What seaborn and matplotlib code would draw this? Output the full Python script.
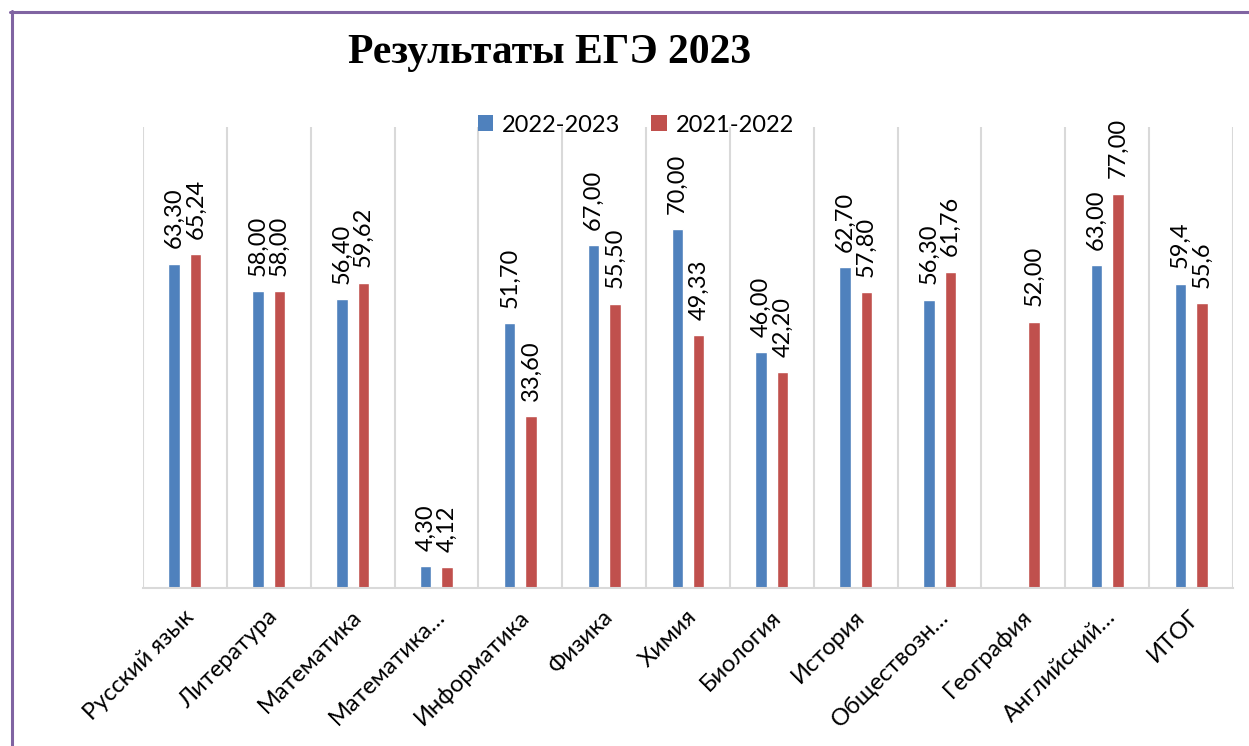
import numpy as np
import pandas as pd
import matplotlib
matplotlib.use("Agg")
import matplotlib.pyplot as plt
import matplotlib.transforms as mtransforms
from matplotlib.patches import Patch
from matplotlib.lines import Line2D
import seaborn as sns

categories = ["Русский язык", "Литература", "Математика", "Математика…",
              "Информатика", "Физика", "Химия", "Биология", "История",
              "Обществозн…", "География", "Английский…", "ИТОГ"]
series_names = ["2022-2023", "2021-2022"]
values_2023 = [63.30, 58.00, 56.40, 4.30, 51.70, 67.00, 70.00, 46.00, 62.70,
               56.30, np.nan, 63.00, 59.4]
values_2022 = [65.24, 58.00, 59.62, 4.12, 33.60, 55.50, 49.33, 42.20, 57.80,
               61.76, 52.00, 77.00, 55.6]
labels_2023 = ["63,30", "58,00", "56,40", "4,30", "51,70", "67,00", "70,00",
               "46,00", "62,70", "56,30", "", "63,00", "59,4"]
labels_2022 = ["65,24", "58,00", "59,62", "4,12", "33,60", "55,50", "49,33",
               "42,20", "57,80", "61,76", "52,00", "77,00", "55,6"]
colors = ["#4F81BD", "#C0504D"]

df = pd.DataFrame({
    "subject": categories * 2,
    "year": [series_names[0]] * len(categories) + [series_names[1]] * len(categories),
    "score": values_2023 + values_2022,
})

sns.set_style("white")
plt.rcParams["font.family"] = ["Lato", "Noto Sans", "DejaVu Sans"]
plt.rcParams["text.color"] = "black"
plt.rcParams["xtick.color"] = "black"
plt.rcParams["xtick.labelcolor"] = "black"

fig = plt.figure(figsize=(12.49, 7.46), dpi=100)
ax = fig.add_axes([143 / 1249, 1 - 588 / 746, (1233 - 143) / 1249, (588 - 127) / 746])

sns.barplot(data=df, x="subject", y="score", hue="year", order=categories,
            hue_order=series_names, palette=colors, width=0.513, gap=0.466,
            errorbar=None, legend=False, ax=ax, saturation=1)

ax.set_ylim(0, 90)
ax.set_xlim(-0.5, len(categories) - 0.5)
ax.set_xlabel("")
ax.set_ylabel("")
ax.set_yticks([])
for s in ["top", "right", "left"]:
    ax.spines[s].set_visible(False)
ax.spines["bottom"].set_color("#d9d9d9")
ax.spines["bottom"].set_linewidth(1.5)

# category boundary gridlines
ax.set_xticks(np.arange(-0.5, len(categories)), minor=True)
ax.grid(which="minor", axis="x", color="#d9d9d9", linewidth=1.5)
ax.tick_params(axis="x", which="both", length=0)

ax.set_xticks(range(len(categories)))
ax.set_xticklabels(categories, rotation=45, ha="right", va="top",
                   rotation_mode="anchor", fontsize=17, color="black")
ax.tick_params(axis="x", pad=13)
shift = mtransforms.ScaledTranslation(-2 / 100, 0, fig.dpi_scale_trans)
for lbl in ax.get_xticklabels():
    lbl.set_transform(lbl.get_transform() + shift)

# value labels
label_sets = [labels_2023, labels_2022]
for container, labs in zip(ax.containers, label_sets):
    for bar in container:
        h = bar.get_height()
        if np.isnan(h):
            continue
        xc = bar.get_x() + bar.get_width() / 2
        i = int(round(xc))
        ax.annotate(labs[i], (xc, h), xytext=(0, 11), textcoords="offset points",
                    rotation=90, ha="center", va="bottom", fontsize=17, color="black")

# legend
handles = [Patch(facecolor=c, edgecolor="none") for c in colors]
fig.legend(handles, series_names, loc="center", bbox_to_anchor=(636 / 1249, 1 - 125 / 746),
           ncol=2, frameon=False, fontsize=17, handlelength=0.65, handleheight=0.65,
           handletextpad=0.4, columnspacing=1.3, labelcolor="black")

fig.text(550 / 1249, 1 - 53 / 746, "Результаты ЕГЭ 2023", ha="center", va="center",
         fontsize=30, fontweight="bold", family="Liberation Serif", color="black")

# outer frame (left and top edges visible)
fig.add_artist(Line2D([11.5 / 1249, 11.5 / 1249], [0, 1 - 11 / 746], color="#8064A2",
                      linewidth=2.2, transform=fig.transFigure))
fig.add_artist(Line2D([10 / 1249, 1], [1 - 12 / 746, 1 - 12 / 746], color="#8064A2",
                      linewidth=2.2, transform=fig.transFigure))

fig.savefig("out.png", dpi=100)
